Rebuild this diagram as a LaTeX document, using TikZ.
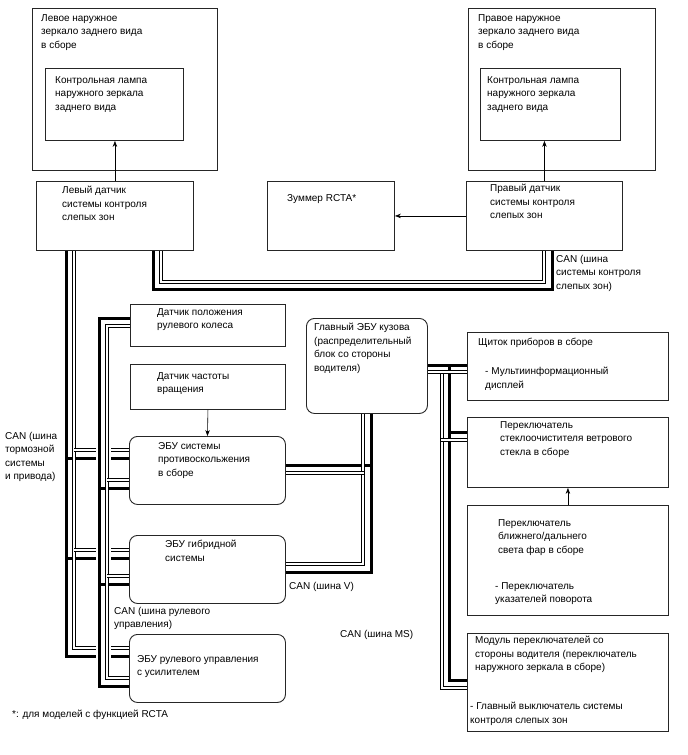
\documentclass[tikz,border=0pt]{standalone}
\usepackage{fontspec}
\setmainfont{Liberation Sans}
\usetikzlibrary{arrows.meta,backgrounds}

\begin{document}
\begin{tikzpicture}[
    x=1pt, y=-1pt,
    >={Stealth[length=6pt,width=4.5pt]},
    font=\fontsize{10}{13.5}\selectfont,
    box/.style={draw=black!85, line width=0.9pt, anchor=north west, inner sep=0pt},
    ecu/.style={box, rounded corners=8pt},
    txt/.style={anchor=north west, align=left, inner sep=0pt,
                execute at begin node=\strut},
    wthick/.style={line width=3pt},
    wdbl/.style={double, line width=1.1pt, double distance=1.8pt},
    wgap/.style={white, line width=15pt},
    arr/.style={->, line width=0.6pt}
  ]
  \useasboundingbox (0,0) rectangle (688,755);

  %% ── Mirrors and blind spot sensors ──
  \node[box, minimum width=185, minimum height=162] (lmirror) at (32,8) {};
  \node[txt] (lmirror-t) at (41,14) {Левое наружное\\зеркало заднего вида\\в сборе};
  \node[box, minimum width=138, minimum height=72] (llamp) at (45,68) {};
  \node[txt] (llamp-t) at (55,76) {Контрольная лампа\\наружного зеркала\\заднего вида};

  \node[box, minimum width=187, minimum height=162] (rmirror) at (468,8) {};
  \node[txt] (rmirror-t) at (478,14) {Правое наружное\\зеркало заднего вида\\в сборе};
  \node[box, minimum width=140, minimum height=72] (rlamp) at (480,68) {};
  \node[txt] (rlamp-t) at (487,76) {Контрольная лампа\\наружного зеркала\\заднего вида};

  \node[box, minimum width=157, minimum height=69] (lsens) at (36,181) {};
  \node[txt] (lsens-t) at (62,186) {Левый датчик\\системы контроля\\слепых зон};
  \node[box, minimum width=127, minimum height=69] (buzzer) at (267,181) {};
  \node[txt] (buzzer-t) at (287,192) {Зуммер RCTA*};
  \node[box, minimum width=156, minimum height=69] (rsens) at (466,181) {};
  \node[txt] (rsens-t) at (490,184) {Правый датчик\\системы контроля\\слепых зон};
  \node[txt] (bsmcan) at (556,255) {CAN (шина\\системы контроля\\слепых зон)};

  %% ── Chassis ECUs ──
  \node[box, minimum width=155, minimum height=42] (sas) at (130,304) {};
  \node[txt] (sas-t) at (157,308) {Датчик положения\\рулевого колеса};
  \node[box, minimum width=155, minimum height=45] (spd) at (130,364) {};
  \node[txt] (spd-t) at (157,372) {Датчик частоты\\вращения};
  \node[ecu, minimum width=156, minimum height=68] (asc) at (129,436) {};
  \node[txt] (asc-t) at (158,442) {ЭБУ системы\\противоскольжения\\в сборе};
  \node[ecu, minimum width=156, minimum height=68] (hyb) at (129,535) {};
  \node[txt] (hyb-t) at (165,540) {ЭБУ гибридной\\системы};
  \node[ecu, minimum width=156, minimum height=68] (eps) at (129,634) {};
  \node[txt] (eps-t) at (137,655) {ЭБУ рулевого управления\\с усилителем};

  \node[txt] (brkcan) at (5,432) {CAN (шина\\тормозной\\системы\\и привода)};
  \node[txt] (strcan) at (114,607) {CAN (шина рулевого\\управления)};
  \node[txt] (vcan) at (289,580) {CAN (шина V)};
  \node[txt] (mscan) at (340,628) {CAN (шина MS)};
  \node[txt] (note) at (12,708) {*: для моделей с функцией RCTA};

  %% ── Body side ──
  \node[ecu, minimum width=121, minimum height=95] (bcm) at (306,318) {};
  \node[txt] (bcm-t) at (314,323) {Главный ЭБУ кузова\\(распределительный\\блок со стороны\\водителя)};
  \node[box, minimum width=201, minimum height=68] (ipc) at (467,332) {};
  \node[txt] (ipc-t) at (478,336) {Щиток приборов в сборе};
  \node[txt] (ipc-i) at (485,367) {- Мультиинформационный\\дисплей};
  \node[box, minimum width=201, minimum height=70] (wiper) at (467,417) {};
  \node[txt] (wiper-t) at (500,421) {Переключатель\\стеклоочистителя ветрового\\стекла в сборе};
  \node[box, minimum width=201, minimum height=110] (hlsw) at (467,505) {};
  \node[txt] (hlsw-t) at (498,519) {Переключатель\\ближнего/дальнего\\света фар в сборе};
  \node[txt] (hlsw-i) at (495,582) {- Переключатель\\указателей поворота};
  \node[box, minimum width=201, minimum height=98] (drv) at (467,633) {};
  \node[txt] (drv-t) at (475,636) {Модуль переключателей со\\стороны водителя (переключатель\\наружного зеркала в сборе)};
  \node[txt] (drv-i) at (470,702) {- Главный выключатель системы\\контроля слепых зон};

  %% ── Signal arrows ──
  \draw[arr] (lsens.north) -- (lsens.north |- llamp.south);
  \draw[arr] (rsens.north) -- (rsens.north |- rlamp.south);
  \draw[arr] (rsens.west) -- (buzzer.east);
  \draw[arr] (spd.south) -- (asc.north);
  \draw[arr] (hlsw.north) -- (wiper.south);

  %% ── CAN buses ──
  \begin{scope}[on background layer]
    % brake / drive bus
    \draw[wthick] ([xshift=30]lsens.south west) |- ([yshift=-22]eps.north west);
    \draw[wthick] ([yshift=-22]asc.north west) -- ++(-63,0);
    \draw[wthick] ([yshift=-23]hyb.north west) -- ++(-63,0);
    \draw[wdbl] ([xshift=38]lsens.south west) |- ([yshift=-14]eps.north west);
    \draw[wdbl] ([yshift=-14]asc.north west) -- ++(-55,0);
    \draw[wdbl] ([yshift=-15]hyb.north west) -- ++(-55,0);

    % blind spot bus
    \draw[wthick] ([xshift=117]lsens.south west) -- ++(0,39) -| ([xshift=86]rsens.south west);
    \draw[wdbl] ([xshift=125]lsens.south west) -- ++(0,31) -| ([xshift=78]rsens.south west);

    % V bus
    \draw[wthick] ([xshift=65]bcm.south west) |- ([yshift=-37]hyb.north east);
    \draw[wthick] ([yshift=-29]asc.north east) -- ++(86,0);
    \draw[wdbl] ([xshift=57]bcm.south west) |- ([yshift=-29]hyb.north east);
    \draw[wdbl] ([yshift=-37]asc.north east) -- ++(78,0);

    % MS bus
    \draw[wthick] ([yshift=-47]bcm.north east) -- ++(22,0) |- ([yshift=-47]drv.north west);
    \draw[wthick] ([yshift=-33]ipc.north west) -- ++(-18,0);
    \draw[wthick] ([yshift=-15]wiper.north west) -- ++(-18,0);
    \draw[wdbl] ([yshift=-54]bcm.north east) -- ++(14,0) |- ([yshift=-55]drv.north west);
    \draw[wdbl] ([yshift=-40]ipc.north west) -- ++(-26,0);
    \draw[wdbl] ([yshift=-23]wiper.north west) -- ++(-26,0);

    % steering bus (crosses the brake bus)
    \draw[wgap] ([yshift=-18]sas.north west) -- ++(-27,0) |- ([yshift=-48]eps.north west);
    \draw[wthick] ([yshift=-14]sas.north west) -- ++(-31,0) |- ([yshift=-52]eps.north west);
    \draw[wthick] ([yshift=-52]asc.north west) -- ++(-30,0);
    \draw[wthick] ([yshift=-49]hyb.north west) -- ++(-30,0);
    \draw[wdbl] ([yshift=-22]sas.north west) -- ++(-23,0) |- ([yshift=-44]eps.north west);
    \draw[wdbl] ([yshift=-44]asc.north west) -- ++(-22,0);
    \draw[wdbl] ([yshift=-41]hyb.north west) -- ++(-22,0);
  \end{scope}

\end{tikzpicture}
\end{document}
